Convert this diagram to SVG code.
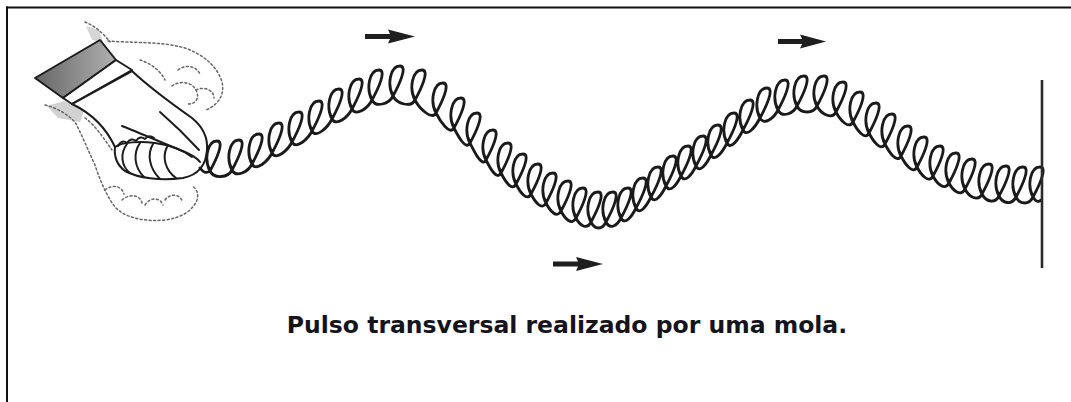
<svg xmlns="http://www.w3.org/2000/svg" width="1071" height="402" viewBox="0 0 1071 402">
  <defs>
    <linearGradient id="sleeveShade" x1="0" y1="0" x2="1" y2="0">
      <stop offset="0" stop-color="#666"/>
      <stop offset="0.6" stop-color="#939393"/>
      <stop offset="1" stop-color="#b0b0b0"/>
    </linearGradient>
    <path id="motionArrow" d="M0,-2.6 H25 L23,-7 L50,0 L23,7 L25,2.6 H0 Z"/>
    <style>
      .ink { fill: none; stroke: #1c1c1c; stroke-width: 2; stroke-linejoin: round; stroke-linecap: round; }
      .ghost { fill: none; stroke: #666; stroke-width: 1.5; stroke-dasharray: 2 2.5; stroke-linecap: round; }
      .coil { fill: none; stroke: #1a1a1a; stroke-width: 2.8; stroke-linejoin: round; stroke-linecap: round; }
      .arrow { fill: #1e1e1e; }
      .caption { font-family: "DejaVu Sans", Verdana, sans-serif; font-weight: bold; font-size: 23.5px; fill: #15141c; }
    </style>
  </defs>

  <rect width="1071" height="402" fill="#ffffff"/>

  <!-- frame: top and left rules only -->
  <g id="frame" stroke="#111" stroke-width="2" fill="none">
    <line x1="6" y1="7.5" x2="1071" y2="7.5"/>
    <line x1="7" y1="6.5" x2="7" y2="402"/>
  </g>

  <!-- hand shaking the spring, with dotted positions above and below -->
  <g id="hand">
    <path d="M86,26 L99,30 L103,42 L92,40 Z" fill="#d6d6d6"/>
    <path d="M47,106 L64,101 L84,111 L80,122 L58,118 Z" fill="#d2d2d2"/>
    <g class="ghost">
      <path d="M85,22 C95,26 103,33 110,42"/>
      <path d="M108,41 C130,43 160,41 185,48 C205,55 218,68 222,82 C225,95 218,105 206,110"/>
      <path d="M178,70 C186,64 196,66 200,74"/>
      <path d="M172,86 C180,80 192,82 196,90 C200,98 196,104 188,104"/>
      <path d="M196,90 C204,86 214,90 214,98"/>
      <path d="M140,60 C150,63 160,70 165,80"/>
      <path d="M137,100 L157,115"/>
      <path d="M45,105 C58,108 68,115 75,122 C82,135 88,150 95,165 C100,180 106,195 115,207 C125,218 145,222 165,220 C182,218 193,210 197,200 C199,193 196,188 192,186"/>
      <path d="M105,190 C112,184 122,186 124,194"/>
      <path d="M122,200 C130,193 140,195 142,203"/>
      <path d="M145,205 C150,197 160,197 163,205"/>
      <path d="M165,200 C170,193 180,194 182,201"/>
      <path d="M85,118 C95,125 105,140 112,150"/>
    </g>
    <path d="M35,78 L100,40 L116,60 L63,98 Z" fill="url(#sleeveShade)" stroke="#1c1c1c" stroke-width="2" stroke-linejoin="round"/>
    <path d="M116,60 L132,70 L72,104 L63,98 Z" class="ink" style="fill:#fff"/>
    <path d="M132,71 C150,88 175,106 192,118 C203,127 208,138 207,150 C206,166 198,175 183,178 C160,181 138,178 125,171 C117,165 114,156 115,147 C108,132 95,115 72,104 Z" class="ink" style="fill:#fff"/>
    <g class="ink">
      <path d="M115,147 C122,142 140,141 155,143 C170,145 183,150 192,157"/>
      <path d="M118,146 q4,-7 9,-3 q4,-6 9,-2 q4,-6 9,-2 q4,-5 9,-1"/>
      <path d="M127,144 C120,153 121,166 130,173"/>
      <path d="M140,143 C133,153 134,167 144,177"/>
      <path d="M153,144 C147,154 149,168 160,179"/>
      <path d="M167,147 C162,157 165,170 176,178"/>
      <path d="M122,126 C140,133 165,144 185,152 C192,155 197,158 200,162"/>
      <path d="M160,112 C175,125 188,138 199,150"/>
    </g>
  </g>

  <!-- the spring, coil after coil along the pulse -->
  <g id="spring">
    <path class="coil" d="M200,168 q5,7 10,3
      c6,-11 15,-30 7,-30 c-10,0 -13,19 -7,30 c4,8 18,7 22,-1
      c6,-11 15,-30 7,-30 c-10,0 -13,19 -7,30 c4,8 16,2 20,-6
      c6,-11 15,-30 7,-30 c-10,0 -13,19 -7,30 c4,8 16,-3 20,-11
      c6,-11 15,-30 7,-30 c-10,0 -13,19 -7,30 c4,8 16,-3 20,-11
      c6,-11 15,-30 7,-30 c-10,0 -13,19 -7,30 c4,8 16,-3 20,-11
      c6,-11 15,-30 7,-30 c-10,0 -13,19 -7,30 c4,8 16,-4 20,-12
      c6,-11 15,-30 7,-30 c-10,0 -13,19 -7,30 c4,8 16,-2 20,-10
      c6,-11 15,-30 7,-30 c-10,0 -13,19 -7,30 c4,8 16,-1 20,-9
      c6,-11 15,-30 7,-30 c-10,0 -13,19 -7,30 c4,8 17,4 21,-4
      c6,-11 15,-30 7,-30 c-10,0 -13,19 -7,30 c4,8 18,12 22,4
      c6,-11 15,-30 7,-30 c-10,0 -13,19 -7,30 c4,8 17,21 21,13
      c6,-11 15,-30 7,-30 c-10,0 -13,19 -7,30 c4,8 14,23 18,15
      c6,-11 15,-30 7,-30 c-10,0 -13,19 -7,30 c4,8 12,23 16,15
      c6,-11 15,-30 7,-30 c-10,0 -13,19 -7,30 c4,8 12,25 16,17
      c6,-11 15,-30 7,-30 c-10,0 -13,19 -7,30 c4,8 11,21 15,13
      c6,-11 15,-30 7,-30 c-10,0 -13,19 -7,30 c4,8 11,19 15,11
      c6,-11 15,-30 7,-30 c-10,0 -13,19 -7,30 c4,8 11,18 15,10
      c6,-11 15,-30 7,-30 c-10,0 -13,19 -7,30 c4,8 11,17 15,9
      c6,-11 15,-30 7,-30 c-10,0 -13,19 -7,30 c4,8 11,16 15,8
      c6,-11 15,-30 7,-30 c-10,0 -13,19 -7,30 c4,8 11,15 15,7
      c6,-11 15,-30 7,-30 c-10,0 -13,19 -7,30 c4,8 11,12 15,4
      c6,-11 15,-30 7,-30 c-10,0 -13,19 -7,30 c4,8 11,8 15,0
      c6,-11 15,-30 7,-30 c-10,0 -13,19 -7,30 c4,8 11,4 15,-4
      c6,-11 15,-30 7,-30 c-10,0 -13,19 -7,30 c4,8 11,-2 15,-10
      c6,-11 15,-30 7,-30 c-10,0 -13,19 -7,30 c4,8 11,-3 15,-11
      c6,-11 15,-30 7,-30 c-10,0 -13,19 -7,30 c4,8 11,-3 15,-11
      c6,-11 15,-30 7,-30 c-10,0 -13,19 -7,30 c4,8 11,-2 15,-10
      c6,-11 15,-30 7,-30 c-10,0 -13,19 -7,30 c4,8 11,-2 15,-10
      c6,-11 15,-30 7,-30 c-10,0 -13,19 -7,30 c4,8 11,-3 15,-11
      c6,-11 15,-30 7,-30 c-10,0 -13,19 -7,30 c4,8 12,-4 16,-12
      c6,-11 15,-30 7,-30 c-10,0 -13,19 -7,30 c4,8 12,-5 16,-13
      c6,-11 15,-30 7,-30 c-10,0 -13,19 -7,30 c4,8 13,-4 17,-12
      c6,-11 15,-30 7,-30 c-10,0 -13,19 -7,30 c4,8 14,0 18,-8
      c6,-11 15,-30 7,-30 c-10,0 -13,19 -7,30 c4,8 15,4 19,-4
      c6,-11 15,-30 7,-30 c-10,0 -13,19 -7,30 c4,8 16,8 20,0
      c6,-11 15,-30 7,-30 c-10,0 -13,19 -7,30 c4,8 15,14 19,6
      c6,-11 15,-30 7,-30 c-10,0 -13,19 -7,30 c4,8 13,18 17,10
      c6,-11 15,-30 7,-30 c-10,0 -13,19 -7,30 c4,8 12,19 16,11
      c6,-11 15,-30 7,-30 c-10,0 -13,19 -7,30 c4,8 12,19 16,11
      c6,-11 15,-30 7,-30 c-10,0 -13,19 -7,30 c4,8 12,20 16,12
      c6,-11 15,-30 7,-30 c-10,0 -13,19 -7,30 c4,8 12,19 16,11
      c6,-11 15,-30 7,-30 c-10,0 -13,19 -7,30 c4,8 12,17 16,9
      c6,-11 15,-30 7,-30 c-10,0 -13,19 -7,30 c4,8 12,15 16,7
      c6,-11 15,-30 7,-30 c-10,0 -13,19 -7,30 c4,8 12,14 16,6
      c6,-11 15,-30 7,-30 c-10,0 -13,19 -7,30 c4,8 13,13 17,5
      c6,-11 15,-30 7,-30 c-10,0 -13,19 -7,30 c4,8 13,10 17,2
      c6,-11 15,-30 7,-30 c-10,0 -13,19 -7,30 c4,8 13,9 17,1
      c6,-11 15,-30 7,-30 c-10,0 -13,19 -7,30 c4,8 13,8 17,0
      c6,-11 15,-30 7,-30 c-10,0 -13,19 -7,30 q4,7 8,3"/>
  </g>

  <!-- fixed end -->
  <g id="wall">
    <line x1="1042" y1="80" x2="1042" y2="268" stroke="#2a2a2a" stroke-width="2.6"/>
  </g>

  <!-- direction of propagation -->
  <g id="connectors">
    <use href="#motionArrow" class="arrow" transform="translate(365,36.5)"/>
    <use href="#motionArrow" class="arrow" transform="translate(553,264)"/>
    <use href="#motionArrow" class="arrow" transform="translate(778,41.5) scale(0.96,1)"/>
  </g>

  <g id="caption">
    <text class="caption" x="567" y="333" text-anchor="middle">Pulso transversal realizado por uma mola.</text>
  </g>
</svg>
